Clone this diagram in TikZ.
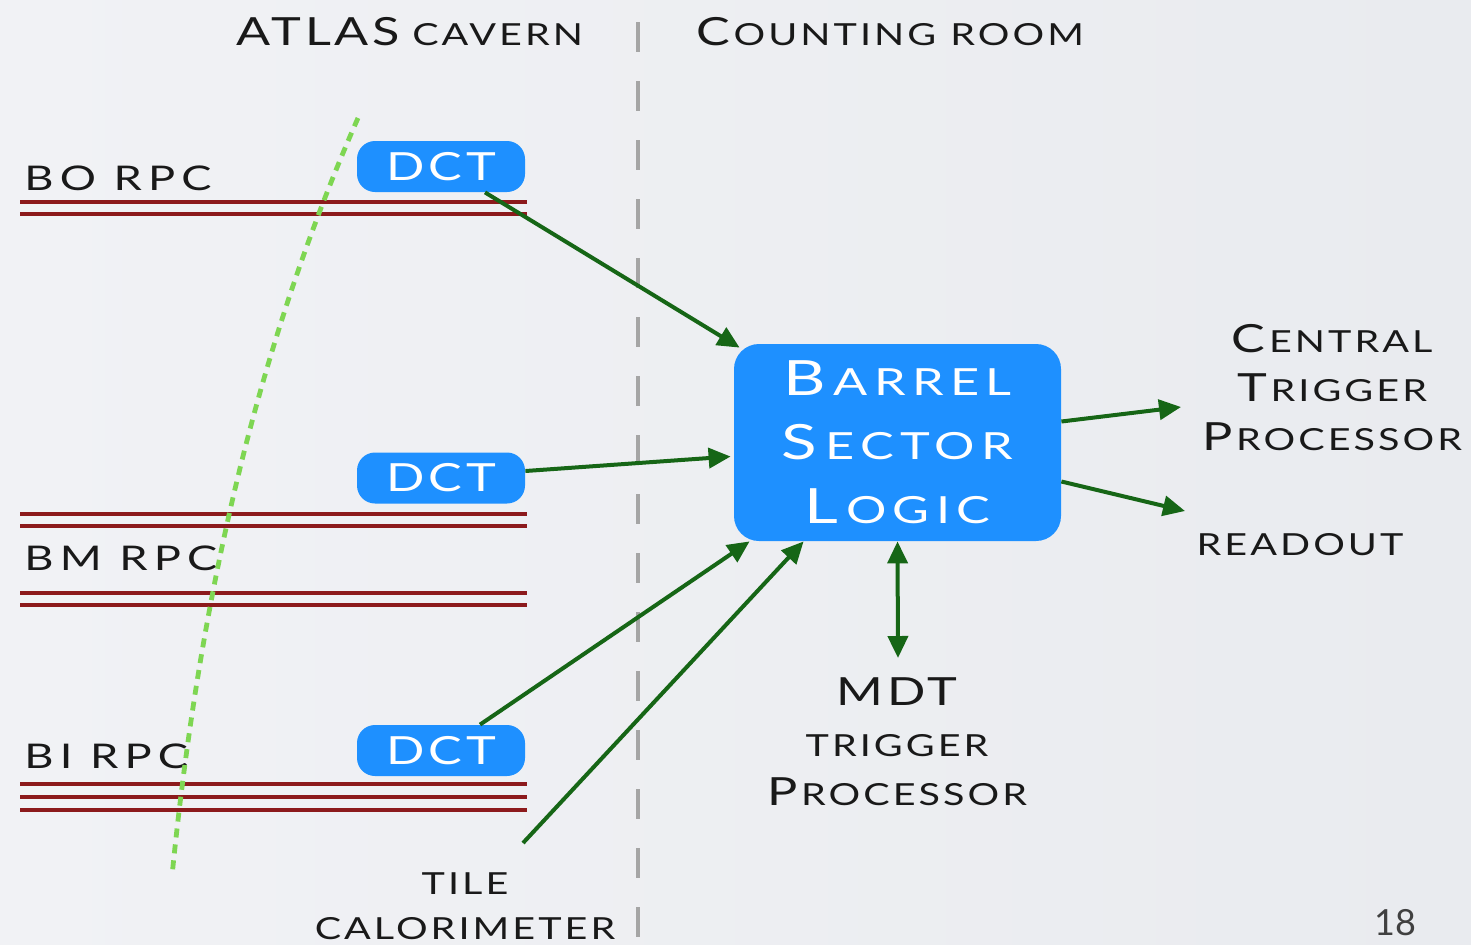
\documentclass[tikz,border=0pt]{standalone}
\usepackage{fontspec}
\setmainfont{Lato}
\newfontfamily\gs[LetterSpace=10,FakeStretch=1.3]{Lato}
\newfontfamily\gsr[LetterSpace=18,FakeStretch=1.33]{Lato}
\newfontfamily\gsb[LetterSpace=17,FakeStretch=1.35]{Lato}
\usetikzlibrary{arrows.meta,calc}
\definecolor{bgl}{RGB}{241,242,245}
\definecolor{bgr}{RGB}{233,235,239}
\definecolor{dblue}{RGB}{30,144,255}
\definecolor{agreen}{RGB}{22,102,22}
\definecolor{rpcred}{RGB}{140,26,28}
\definecolor{lgreen}{RGB}{126,214,82}
\definecolor{dgray}{RGB}{165,165,165}
\definecolor{txt}{RGB}{25,25,25}
\newcommand\Lc[1]{{\fontsize{19.4}{24.5}\selectfont #1}}
\newcommand\Li[1]{{\fontsize{19.4}{24.5}\selectfont #1\kern1.9pt}}
\newcommand\Sc[1]{{\fontsize{15.2}{24.5}\selectfont #1}}
\newcommand\BLi[1]{{\fontsize{24.3}{32}\selectfont #1\kern4pt}}
\newcommand\BSc[1]{{\fontsize{18.7}{32}\selectfont #1}}
\tikzset{
  lbl/.style={inner sep=0pt, anchor=base, text=txt, font=\gs},
  rpclbl/.style={inner sep=0pt, anchor=base west, text=txt, font=\gsr\fontsize{17}{20}\selectfont},
  dctbox/.style={fill=dblue, rounded corners=9pt, minimum width=84pt, minimum height=25.5pt, inner sep=0pt, text=white, font=\gs\fontsize{19.4}{22}\selectfont},
  bslbox/.style={fill=dblue, rounded corners=12.5pt, minimum width=163.5pt, minimum height=98.5pt, inner sep=0pt, text=white, align=center, font=\gsb\fontsize{24.3}{32}\selectfont},
  rpcline/.style={draw=rpcred, line width=2.2pt},
  arr/.style={draw=agreen, line width=2pt, -{Triangle[length=11pt,width=10pt]}},
  darr/.style={draw=agreen, line width=2pt, {Triangle[length=11pt,width=10pt]}-{Triangle[length=11pt,width=10pt]}},
}
\begin{document}
\begin{tikzpicture}[x=0.5pt,y=-0.5pt]
\shade[left color=bgl, right color=bgr] (0,0) rectangle (1471,944);
\useasboundingbox (0,0) rectangle (1471,944);

% header
\node[lbl] (hcav) at (410,45) {\Lc{ATLAS}\hspace{6pt}\Sc{CAVERN}};
\node[lbl] (hcnt) at (890,45) {\Li{C}\Sc{OUNTING}\hspace{7pt}\Sc{ROOM}};

% dividing line
\draw[dgray, line width=2pt, dash pattern=on 15pt off 14.5pt] (638,22) -- (638,944);

% RPC lines
\draw[rpcline] (20,202) -- (527,202);
\draw[rpcline] (20,214) -- (527,214);
\draw[rpcline] (20,514) -- (527,514);
\draw[rpcline] (20,526) -- (527,526);
\draw[rpcline] (20,593) -- (527,593);
\draw[rpcline] (20,605) -- (527,605);
\draw[rpcline] (20,784) -- (527,784);
\draw[rpcline] (20,797) -- (527,797);
\draw[rpcline] (20,810) -- (527,810);

\node[rpclbl] (bo) at (24,190) {BO RPC};
\node[rpclbl] (bm) at (24,570) {BM RPC};
\node[rpclbl] (bi) at (24,768) {BI RPC};

% green dotted track
\draw[lgreen, line width=2.4pt, dash pattern=on 4.5pt off 3.5pt] (358,118) .. controls (248,368) and (197,626) .. (172,876);

% boxes
\node[dctbox] (dct1) at (441,166.5) {DCT};
\node[dctbox] (dct2) at (441,478) {DCT};
\node[dctbox] (dct3) at (441,750.5) {DCT};
\node[bslbox] (bsl) at (897.5,442.5) {\BLi{B}\BSc{ARREL}\\\BLi{S}\BSc{ECTOR}\\\BLi{L}\BSc{OGIC}};

% right labels
\node[lbl] (ctp1) at (1332,352) {\Li{C}\Sc{ENTRAL}};
\node[lbl] (ctp2) at (1332,401) {\Li{T}\Sc{RIGGER}};
\node[lbl] (ctp3) at (1332,450) {\Li{P}\Sc{ROCESSOR}};
\node[lbl] (ro) at (1300,555) {\Sc{READOUT}};
\node[lbl] (mdt1) at (897,705) {\Lc{MDT}};
\node[lbl] (mdt2) at (897,756) {\Sc{TRIGGER}};
\node[lbl] (mdt3) at (897,805) {\Li{P}\Sc{ROCESSOR}};
\node[lbl] (tile1) at (465,894) {\Sc{TILE}};
\node[lbl] (tile2) at (465,939) {\Sc{CALORIMETER}};
\node[inner sep=0pt, anchor=base, text=black!75, font=\fontsize{18}{22}\selectfont] (pg) at (1395,935) {18};

% free ends
\coordinate (ctpin) at (1181,407);
\coordinate (roin) at (1185,511);
\coordinate (mdtin) at (898,658);
\coordinate (tileout) at (523,843);

% connectors
\draw[arr] ($(dct1.south)+(44,0)$) -- ($(bsl.north west)+(6,4)$);
\draw[arr] ($(dct2.east)+(0,-7)$) -- ($(bsl.west)+(-3,14)$);
\draw[arr] ($(dct3.north)+(39,0)$) -- ($(bsl.south west)+(16,0)$);
\draw[arr] (tileout) -- ($(bsl.south west)+(70,0)$);
\draw[arr] ($(bsl.east)+(0,-21)$) -- (ctpin);
\draw[arr] ($(bsl.east)+(0,39)$) -- (roin);
\draw[darr] (bsl.south) -- (mdtin);
\end{tikzpicture}
\end{document}
